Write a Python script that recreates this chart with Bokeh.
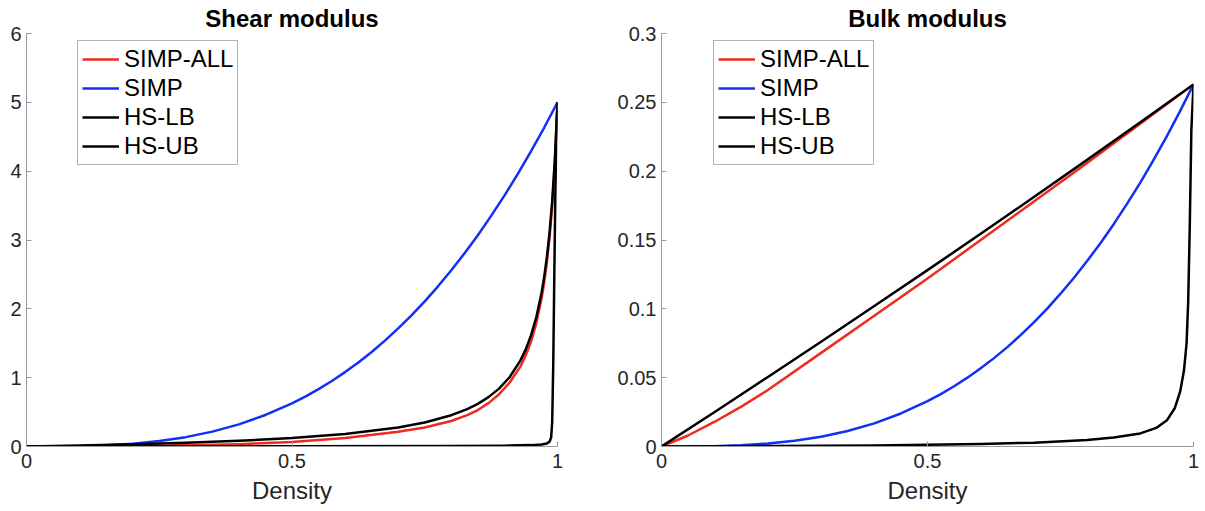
from bokeh.plotting import figure
from bokeh.layouts import row
from bokeh.models import Range1d, FixedTicker, Legend, LegendItem
from bokeh.embed import file_html
from bokeh.resources import INLINE

# ---------------- data ----------------
legend_labels = ["SIMP-ALL", "SIMP", "HS-LB", "HS-UB"]

# Shear modulus panel
shear_simp_x = [0, 0.05, 0.1, 0.15, 0.2, 0.25, 0.3, 0.35, 0.4, 0.45, 0.5, 0.525,
                0.55, 0.575, 0.6, 0.625, 0.65, 0.675, 0.7, 0.725, 0.75, 0.775, 0.8,
                0.825, 0.85, 0.875, 0.9, 0.925, 0.95, 0.975, 1.0]
shear_simp_y = [0, 0.001, 0.005, 0.017, 0.04, 0.079, 0.136, 0.216, 0.322, 0.458, 0.626,
                0.724, 0.833, 0.951, 1.081, 1.221, 1.373, 1.538, 1.715, 1.905, 2.109,
                2.327, 2.56, 2.808, 3.07, 3.35, 3.645, 3.957, 4.287, 4.634, 5.0]

shear_ub_x = [0, 0.1, 0.2, 0.3, 0.4, 0.5, 0.6, 0.7, 0.75, 0.8, 0.83, 0.85, 0.87, 0.89,
              0.91, 0.93, 0.94, 0.95, 0.96, 0.97, 0.975, 0.98, 0.985, 0.99, 0.995, 1.0]
shear_ub_y = [0, 0.014, 0.031, 0.053, 0.082, 0.122, 0.181, 0.276, 0.349, 0.455, 0.544,
              0.62, 0.717, 0.841, 1.009, 1.247, 1.407, 1.61, 1.875, 2.235, 2.468, 2.753,
              3.107, 3.561, 4.163, 5.0]
shear_all_y = [0, 0.002, 0.008, 0.018, 0.033, 0.065, 0.125, 0.215, 0.275, 0.37, 0.455,
               0.53, 0.63, 0.76, 0.93, 1.16, 1.32, 1.52, 1.79, 2.15, 2.38, 2.68,
               3.03, 3.5, 4.13, 5.0]

shear_lb_x = [0, 0.5, 0.8, 0.9, 0.95, 0.97, 0.98, 0.985, 0.988, 0.99, 0.992,
              0.994, 0.996, 0.998, 1.0]
shear_lb_y = [0, 0.004, 0.008, 0.012, 0.02, 0.03, 0.045, 0.07, 0.13, 0.35, 1.2,
              2.5, 3.7, 4.5, 5.0]

# Bulk modulus panel
bulk_simp_x = shear_simp_x
bulk_simp_y = [0, 0.00003, 0.00026, 0.0009, 0.0021, 0.0041, 0.0071, 0.0113, 0.0168,
               0.024, 0.0329, 0.0381, 0.0438, 0.05, 0.0568, 0.0642, 0.0722, 0.0809,
               0.0902, 0.1002, 0.111, 0.1224, 0.1347, 0.1477, 0.1615, 0.1762,
               0.1917, 0.2082, 0.2255, 0.2438, 0.263]

bulk_ub_x = [0, 0.1, 0.2, 0.3, 0.4, 0.5, 0.6, 0.7, 0.8, 0.9, 1.0]
bulk_ub_y = [0, 0.0251, 0.0505, 0.0761, 0.102, 0.1281, 0.1545, 0.1812, 0.2082, 0.2355, 0.263]

bulk_all_x = [0, 0.05, 0.1, 0.15, 0.2, 0.3, 0.4, 0.5, 0.6, 0.7, 0.8, 0.9, 1.0]
bulk_all_y = [0, 0.008, 0.018, 0.029, 0.041, 0.068, 0.095, 0.122, 0.15, 0.178, 0.206,
              0.2345, 0.263]

bulk_lb_x = [0, 0.2, 0.4, 0.5, 0.6, 0.7, 0.8, 0.85, 0.9, 0.93, 0.95, 0.965, 0.975,
             0.982, 0.987, 0.99, 0.993, 0.996, 1.0]
bulk_lb_y = [0, 0.0003, 0.0008, 0.0012, 0.0018, 0.0028, 0.0048, 0.0066, 0.0095, 0.0135,
             0.019, 0.028, 0.04, 0.055, 0.075, 0.105, 0.16, 0.23, 0.263]

x_ticks = [0, 0.5, 1]
x_tick_labels = ["0", "0.5", "1"]
shear_ticks = [0, 1, 2, 3, 4, 5, 6]
shear_tick_labels = ["0", "1", "2", "3", "4", "5", "6"]
bulk_ticks = [0, 0.05, 0.1, 0.15, 0.2, 0.25, 0.3]
bulk_tick_labels = ["0", "0.05", "0.1", "0.15", "0.2", "0.25", "0.3"]

RED = "#f02a1e"
BLUE = "#1030f8"
BLACK = "#000000"
FONT = "Liberation Sans"
AXIS_COLOR = "#9a9a9a"
TEXT_COLOR = "#262626"
LW = 2.5
H = 510


def make_panel(title, width, border_left, border_right, ymax, yticks, ylabels,
               series, legend_loc):
    p = figure(width=width, height=H, output_backend="svg", toolbar_location=None,
               x_range=Range1d(0, 1), y_range=Range1d(0, ymax),
               min_border_left=border_left, min_border_right=border_right,
               min_border_top=0, min_border_bottom=64)
    p.title.text = title
    p.title.align = "center"
    p.title.text_font = FONT
    p.title.text_font_size = "24px"
    p.title.text_font_style = "bold"
    p.title.text_color = "#000000"
    p.title.standoff = 4
    p.title.offset = 0

    p.xgrid.visible = False
    p.ygrid.visible = False
    p.outline_line_color = None
    p.background_fill_color = "white"
    p.border_fill_color = "white"

    for ax in (p.xaxis, p.yaxis):
        ax.axis_line_color = AXIS_COLOR
        ax.major_tick_line_color = AXIS_COLOR
        ax.major_tick_in = 5
        ax.major_tick_out = 0
        ax.minor_tick_line_color = None
        ax.major_label_text_font = FONT
        ax.major_label_text_font_size = "20px"
        ax.major_label_text_color = TEXT_COLOR
    p.yaxis.major_label_standoff = 5
    p.xaxis.major_label_standoff = 7

    p.xaxis.ticker = FixedTicker(ticks=x_ticks)
    p.xaxis.major_label_overrides = {t: l for t, l in zip(x_ticks, x_tick_labels)}
    p.yaxis.ticker = FixedTicker(ticks=yticks)
    p.yaxis.major_label_overrides = {t: l for t, l in zip(yticks, ylabels)}
    p.xaxis.axis_label = "Density"
    p.xaxis.axis_label_text_font = FONT
    p.xaxis.axis_label_text_font_size = "24px"
    p.xaxis.axis_label_text_font_style = "normal"
    p.xaxis.axis_label_text_color = TEXT_COLOR
    p.xaxis.axis_label_standoff = 6

    items = []
    for (xs, ys, color), lab in zip(series, legend_labels):
        r = p.line(xs, ys, line_color=color, line_width=LW, line_join="round")
        items.append(LegendItem(label=lab, renderers=[r]))

    leg = Legend(items=items, location=legend_loc)
    leg.label_text_font = FONT
    leg.label_text_font_size = "24px"
    leg.label_text_color = "#000000"
    leg.glyph_width = 37
    leg.glyph_height = 24
    leg.label_standoff = 5
    leg.label_height = 24
    leg.padding = 4
    leg.spacing = 1
    leg.margin = 0
    leg.border_line_color = "#666666"
    leg.border_line_width = 1
    leg.background_fill_color = "white"
    leg.background_fill_alpha = 1.0
    p.add_layout(leg)
    return p


p1 = make_panel("Shear modulus", 614, 26, 57, 6, shear_ticks, shear_tick_labels,
                [(shear_ub_x, shear_all_y, RED),
                 (shear_simp_x, shear_simp_y, BLUE),
                 (shear_lb_x, shear_lb_y, BLACK),
                 (shear_ub_x, shear_ub_y, BLACK)],
                (51, 281))

p2 = make_panel("Bulk modulus", 590, 44, 11, 0.3, bulk_ticks, bulk_tick_labels,
                [(bulk_all_x, bulk_all_y, RED),
                 (bulk_simp_x, bulk_simp_y, BLUE),
                 (bulk_lb_x, bulk_lb_y, BLACK),
                 (bulk_ub_x, bulk_ub_y, BLACK)],
                (52, 281))

layout = row(p1, p2)
open("out.html", "w").write(file_html(layout, INLINE))
